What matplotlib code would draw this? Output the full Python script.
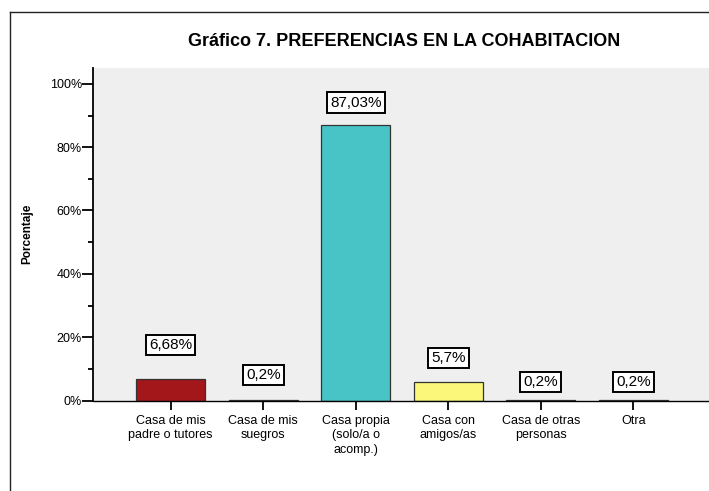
import matplotlib
matplotlib.use("Agg")
import matplotlib.pyplot as plt
from matplotlib.lines import Line2D
from matplotlib.ticker import MultipleLocator, FuncFormatter

plt.rcParams['font.family'] = ['Liberation Sans', 'DejaVu Sans']

categories = ["Casa de mis\npadre o tutores", "Casa de mis\nsuegros",
              "Casa propia\n(solo/a o\nacomp.)", "Casa con\namigos/as",
              "Casa de otras\npersonas", "Otra"]
values = [6.68, 0.2, 87.03, 5.7, 0.2, 0.2]
value_labels = ["6,68%", "0,2%", "87,03%", "5,7%", "0,2%", "0,2%"]
label_y = [17.6, 8.1, 94.1, 13.4, 5.9, 5.9]
colors = ["#A3171B", "#6E6E9E", "#48C3C6", "#FAF77A", "#6E9E6E", "#9E6E6E"]
title = "Gráfico 7. PREFERENCIAS EN LA COHABITACION"
ylabel = "Porcentaje"

W, H = 709, 491
fig = plt.figure(figsize=(W / 100, H / 100), dpi=100)

# outer frame
fig.add_artist(Line2D([10 / W, 10 / W], [0, 1 - 12 / H], transform=fig.transFigure,
                      color="#222222", lw=1.0))
fig.add_artist(Line2D([10 / W, 1], [1 - 12 / H, 1 - 12 / H], transform=fig.transFigure,
                      color="#222222", lw=1.0))

left, right = 93 / W, 711 / W
bottom, top = (H - 400.5) / H, (H - 68) / H
ax = fig.add_axes([left, bottom, right - left, top - bottom])
ax.set_facecolor("#EFEFEF")

x = list(range(len(categories)))
ax.bar(x, values, width=0.75, color=colors, edgecolor="#333333", linewidth=0.9, zorder=2)

for xi, txt, ly in zip(x, value_labels, label_y):
    ax.text(xi, ly, txt, ha="center", va="center", fontsize=11, zorder=3,
            bbox=dict(boxstyle="square,pad=0.2", facecolor="white",
                      edgecolor="black", linewidth=1.4))

ax.set_xlim(-0.84, 5.84)
ax.set_ylim(0, 105)
ax.yaxis.set_major_locator(MultipleLocator(20))
ax.yaxis.set_minor_locator(MultipleLocator(10))
ax.yaxis.set_major_formatter(FuncFormatter(lambda v, p: f"{int(v)}%"))
ax.set_xticks(x)
ax.set_xticklabels(categories, fontsize=9, linespacing=1.25)
ax.tick_params(axis="y", which="major", length=8, width=1.3, pad=0, labelsize=9)
ax.tick_params(axis="y", which="minor", length=3.6, width=1.3)
ax.tick_params(axis="x", length=6.5, width=1.3, pad=4)

for s in ["top", "right"]:
    ax.spines[s].set_visible(False)
ax.spines["left"].set_linewidth(1.3)
ax.spines["bottom"].set_linewidth(1.0)

ax.set_ylabel(ylabel, fontsize=8.5, fontweight="bold")
ax.yaxis.set_label_coords((33 - 93) / (711 - 93), 0.5)

fig.text(404 / W, 1 - 42 / H, title, ha="center", va="center", fontsize=13,
         fontweight="bold")

fig.savefig("out.png", dpi=100)
